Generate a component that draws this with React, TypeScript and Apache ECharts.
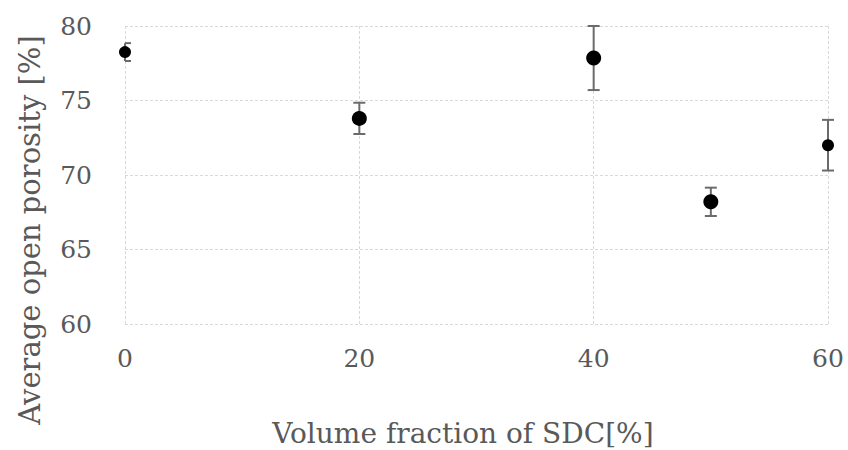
import React, { useEffect, useRef } from "react";
import * as echarts from "echarts";

const xValues = [0, 20, 40, 50, 60];
const porosity = [78.25, 73.8, 77.85, 68.2, 72.0];
const errors = [0.6, 1.05, 2.15, 0.95, 1.7];
const markerSizes = [12, 15, 15, 15, 12];
const xTicks = [0, 20, 40, 60];
const yTicks = [60, 65, 70, 75, 80];

const FONT = "DejaVu Serif";
const TEXT = "#595959";
const GRID = "#d9d9d9";

export default function App() {
  const ref = useRef<HTMLDivElement>(null);
  useEffect(() => {
    if (!ref.current) return;
    const chart = echarts.init(ref.current, null, { renderer: "svg" });
    const pts = xValues.map((x, i) => ({
      value: [x, porosity[i]],
      symbolSize: markerSizes[i],
    }));
    const errData = xValues.map((x, i) => [x, porosity[i] - errors[i], porosity[i] + errors[i]]);
    chart.setOption({
      animation: false,
      grid: { left: 125, right: 20, top: 26, bottom: 126 },
      xAxis: {
        type: "value",
        min: xTicks[0],
        max: xTicks[xTicks.length - 1],
        interval: 20,
        axisLine: { show: false },
        axisTick: { show: false },
        axisLabel: { color: TEXT, fontFamily: FONT, fontSize: 25, margin: 22 },
        splitLine: { show: true, lineStyle: { color: GRID, type: [3, 2], width: 1 } },
      },
      yAxis: {
        type: "value",
        min: yTicks[0],
        max: yTicks[yTicks.length - 1],
        interval: 5,
        axisLine: { show: false },
        axisTick: { show: false },
        axisLabel: { color: TEXT, fontFamily: FONT, fontSize: 25, margin: 33 },
        splitLine: { show: true, lineStyle: { color: GRID, type: [3, 2], width: 1 } },
      },
      graphic: [
        {
          type: "text",
          x: 463,
          y: 433,
          style: {
            text: "Volume fraction of SDC[%]",
            fill: TEXT,
            font: `28px "${FONT}"`,
            align: "center",
            verticalAlign: "middle",
          },
        },
        {
          type: "text",
          x: 30,
          y: 230,
          rotation: Math.PI / 2,
          style: {
            text: "Average open porosity [%]",
            fill: TEXT,
            font: `29px "${FONT}"`,
            align: "center",
            verticalAlign: "middle",
          },
        },
      ],
      series: [
        {
          type: "custom",
          data: errData,
          clip: false,
          z: 2,
          renderItem: (params: any, api: any) => {
            const x = api.value(0);
            const lo = api.coord([x, api.value(1)]);
            const hi = api.coord([x, api.value(2)]);
            const half = 6;
            const left = x === xTicks[0] ? lo[0] : lo[0] - half;
            const style = { stroke: "#6b6b6b", lineWidth: 2 };
            return {
              type: "group",
              children: [
                { type: "line", shape: { x1: lo[0], y1: lo[1], x2: hi[0], y2: hi[1] }, style },
                { type: "line", shape: { x1: left, y1: lo[1], x2: lo[0] + half, y2: lo[1] }, style },
                { type: "line", shape: { x1: left, y1: hi[1], x2: hi[0] + half, y2: hi[1] }, style },
              ],
            };
          },
        },
        {
          type: "scatter",
          data: pts,
          z: 3,
          clip: false,
          itemStyle: { color: "#000", opacity: 1 },
        },
      ],
    });
    return () => chart.dispose();
  }, []);
  return (
    <div
      ref={ref}
      style={{ position: "fixed", left: 0, top: 0, width: 848, height: 450, background: "#fff" }}
    />
  );
}
